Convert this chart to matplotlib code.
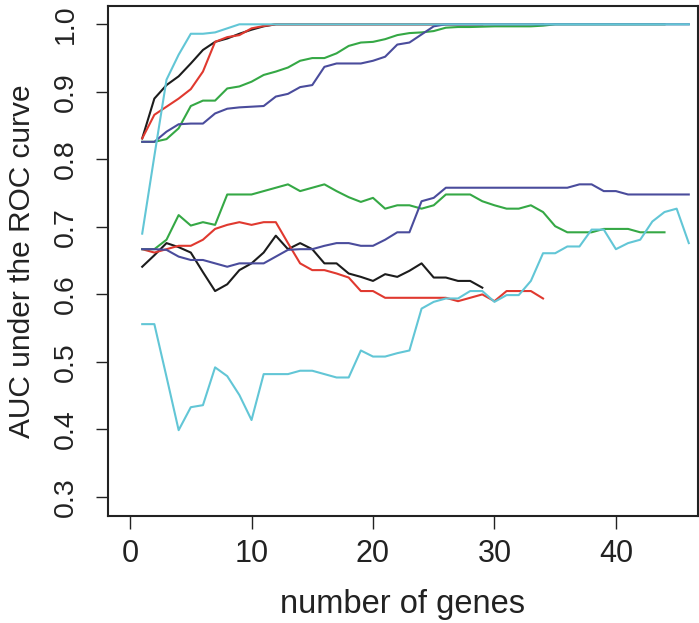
import numpy as np
import matplotlib
matplotlib.use("Agg")
from matplotlib import pyplot as plt

# AUC vs number of genes, upper curves (training) and lower curves (test)
black_top = [0.831, 0.890, 0.910, 0.923, 0.942, 0.962, 0.974, 0.979, 0.986, 0.992, 0.997,
             1.0, 1.0, 1.0, 1.0, 1.0, 1.0, 1.0, 1.0, 1.0, 1.0, 1.0, 1.0, 1.0, 1.0, 1.0, 1.0, 1.0, 1.0]
black_low = [0.641, 0.658, 0.676, 0.670, 0.662, 0.633, 0.605, 0.615, 0.636, 0.646, 0.662,
             0.687, 0.667, 0.676, 0.667, 0.646, 0.646, 0.631, 0.626, 0.620, 0.630, 0.626,
             0.635, 0.646, 0.625, 0.625, 0.620, 0.620, 0.610]

red_top = [0.831, 0.866, 0.878, 0.890, 0.904, 0.930, 0.974, 0.981, 0.984, 0.994, 0.9975,
           1.0, 1.0, 1.0, 1.0, 1.0, 1.0, 1.0, 1.0, 1.0, 1.0, 1.0, 1.0, 1.0, 1.0, 1.0, 1.0,
           1.0, 1.0, 1.0, 1.0, 1.0, 1.0, 1.0]
red_low = [0.667, 0.662, 0.667, 0.672, 0.672, 0.681, 0.697, 0.703, 0.707, 0.703, 0.707,
           0.707, 0.676, 0.646, 0.636, 0.636, 0.631, 0.625, 0.605, 0.605, 0.595, 0.595,
           0.595, 0.595, 0.595, 0.595, 0.590, 0.595, 0.600, 0.590, 0.605, 0.605, 0.605, 0.594]

green_top = [0.826, 0.826, 0.830, 0.846, 0.879, 0.887, 0.887, 0.905, 0.908, 0.915, 0.925,
             0.930, 0.936, 0.946, 0.950, 0.950, 0.957, 0.968, 0.973, 0.974, 0.978, 0.984,
             0.987, 0.988, 0.990, 0.995, 0.996, 0.996, 0.9965, 0.997, 0.997, 0.997, 0.997,
             0.998, 1.0, 1.0, 1.0, 1.0, 1.0, 1.0, 1.0, 1.0, 1.0, 1.0]
green_low = [0.667, 0.667, 0.681, 0.7175, 0.702, 0.707, 0.703, 0.748, 0.748, 0.748, 0.753,
             0.758, 0.763, 0.753, 0.758, 0.763, 0.753, 0.744, 0.737, 0.743, 0.727, 0.732,
             0.732, 0.727, 0.732, 0.748, 0.748, 0.748, 0.738, 0.732, 0.727, 0.727, 0.732,
             0.722, 0.701, 0.692, 0.692, 0.692, 0.697, 0.697, 0.697, 0.692, 0.692, 0.692]

blue_top = [0.826, 0.826, 0.841, 0.852, 0.853, 0.853, 0.868, 0.875, 0.877, 0.878, 0.879,
            0.893, 0.897, 0.907, 0.910, 0.937, 0.942, 0.942, 0.942, 0.946, 0.952, 0.970,
            0.973, 0.985, 0.997] + [1.0] * 21
blue_low = [0.667, 0.667, 0.666, 0.656, 0.651, 0.651, 0.646, 0.641, 0.646, 0.646, 0.646,
            0.656, 0.666, 0.667, 0.667, 0.672, 0.676, 0.676, 0.672, 0.672, 0.681, 0.692,
            0.692, 0.738, 0.743, 0.758, 0.758, 0.758, 0.758, 0.758, 0.758, 0.758, 0.758,
            0.758, 0.758, 0.758, 0.763, 0.763, 0.753, 0.753, 0.748, 0.748, 0.748, 0.748,
            0.748, 0.748]

cyan_top = [0.690, 0.805, 0.918, 0.955, 0.986, 0.986, 0.988, 0.994] + [1.0] * 38
cyan_low = [0.556, 0.556, 0.478, 0.399, 0.433, 0.436, 0.492, 0.479, 0.451, 0.414, 0.482,
            0.482, 0.482, 0.487, 0.487, 0.482, 0.477, 0.477, 0.517, 0.508, 0.508, 0.513,
            0.517, 0.579, 0.589, 0.594, 0.594, 0.605, 0.605, 0.589, 0.599, 0.599, 0.620,
            0.661, 0.661, 0.671, 0.671, 0.696, 0.696, 0.667, 0.676, 0.681, 0.708, 0.722,
            0.727, 0.676]

series = [
    (black_top, black_low, "#1c1c1c"),
    (red_top, red_low, "#e0392f"),
    (green_top, green_low, "#35a845"),
    (blue_top, blue_low, "#4a4c9c"),
    (cyan_top, cyan_low, "#62c6d6"),
]

plt.rcParams['font.family'] = ['Liberation Sans', 'DejaVu Sans']

fig = plt.figure(figsize=(6.99, 6.23), dpi=100)
ax = fig.add_axes([0.1541, 0.1722, 0.8438, 0.8187])

for top, low, col in series:
    ax.plot(np.arange(1, len(top) + 1), top, color=col, lw=1.5)
    ax.plot(np.arange(1, len(low) + 1), low, color=col, lw=1.5)

ax.set_xlim(-1.84, 46.72)
ax.set_ylim(0.2723, 1.0276)
ax.set_xticks([0, 10, 20, 30, 40])
ax.set_yticks([0.3, 0.4, 0.5, 0.6, 0.7, 0.8, 0.9, 1.0])
ax.set_yticklabels(["0.3", "0.4", "0.5", "0.6", "0.7", "0.8", "0.9", "1.0"],
                   rotation=90, va="center")
ax.tick_params(axis="both", direction="out", length=9, width=1.0,
               color="#222222", labelcolor="#222222")
ax.tick_params(axis="x", pad=8, labelsize=22)
ax.tick_params(axis="y", pad=12, labelsize=20.5)
for s in ax.spines.values():
    s.set_linewidth(1.5)
    s.set_color("#222222")

ax.set_xlabel("number of genes", fontsize=23.5, color="#222222", labelpad=14)
ax.set_ylabel("AUC under the ROC curve", fontsize=21.5, color="#222222", labelpad=12)

fig.savefig("out.png", dpi=100)
